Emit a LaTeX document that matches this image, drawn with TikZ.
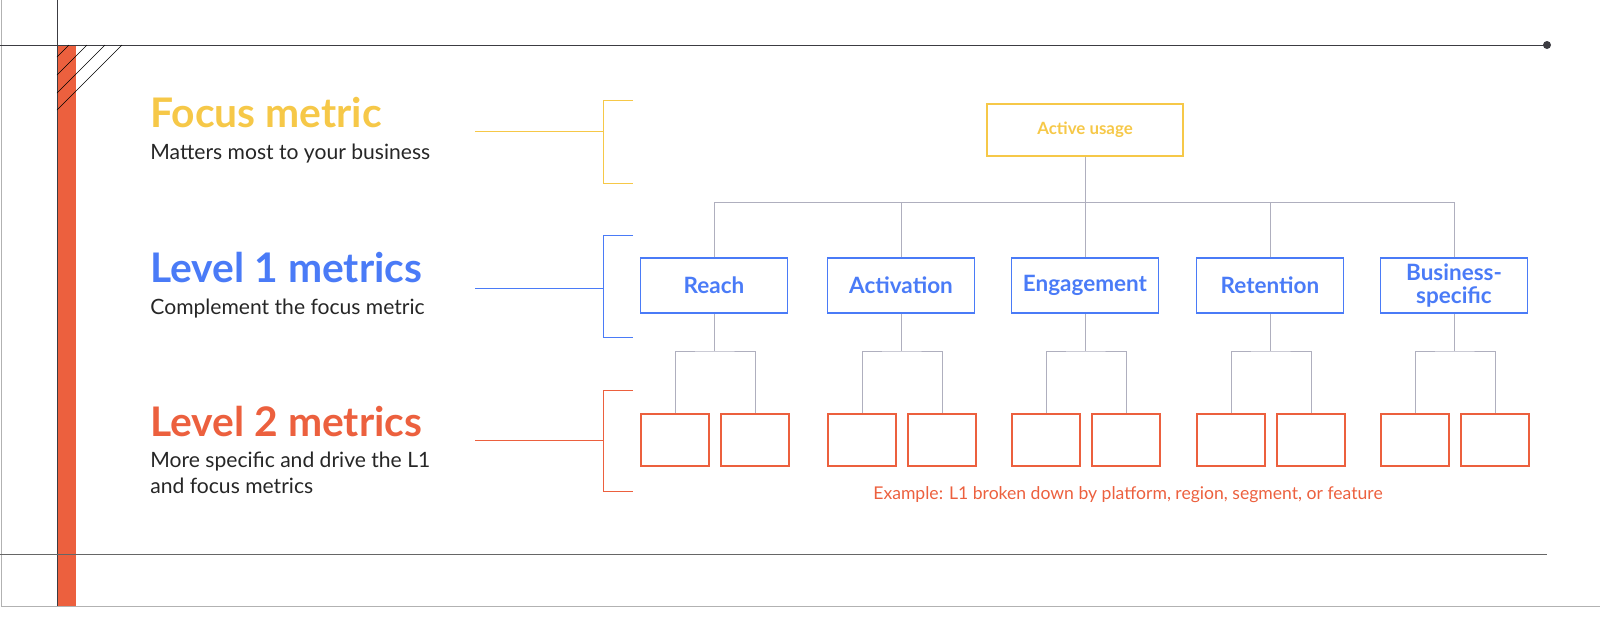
\documentclass[tikz,border=0pt]{standalone}
\usepackage{fontspec}
\setmainfont{Lato}
\usetikzlibrary{positioning,calc}
\definecolor{focus_yell}{RGB}{246,200,72}
\definecolor{lvl_blue}{RGB}{74,123,247}
\definecolor{lvl_red}{RGB}{236,96,62}
\definecolor{tree_gray}{RGB}{175,175,190}
\definecolor{frame_dark}{RGB}{60,60,66}
\begin{document}
\begin{tikzpicture}[x=0.025cm,y=-0.025cm,semithick]
    \tikzstyle{title}=[anchor=base west,font=\bfseries\fontsize{29}{32}\selectfont,inner sep=0]
    \tikzstyle{sub}=[anchor=north west,font=\fontsize{15}{18}\selectfont,inner sep=0,align=left,text=black!85]
    \tikzstyle{focus}=[draw=focus_yell,line width=1.2pt,minimum width=4.9cm,minimum height=1.3cm,text=focus_yell,font=\bfseries\fontsize{12}{14}\selectfont]
    \tikzstyle{lone}=[draw=lvl_blue,line width=1.2pt,minimum width=3.67cm,minimum height=1.37cm,text=lvl_blue,font=\bfseries\fontsize{16}{17}\selectfont,align=center]
    \tikzstyle{ltwo}=[draw=lvl_red,line width=1.2pt,minimum width=1.7cm,minimum height=1.3cm]
    \tikzstyle{tree}=[draw=tree_gray,thin]

    \useasboundingbox (0,0) rectangle (1600,619);
    % frame
    \draw[gray!60] (1,0) -- (1,606) -- (1600,606);
    \fill[lvl_red] (57,45) rectangle (76,606);
    \draw[frame_dark] (57,0) -- (57,606);
    \draw[frame_dark] (0,45) -- (1547,45);
    \fill[frame_dark] (1547,45) circle (4);
    \draw[gray!80!black] (0,554) -- (1547,554);
    \foreach \t in {69,87,105,122}
        \draw[black,thin] (\t,45) -- (57,{45+\t-57});

    % legend
    \node[title,text=focus_yell] (ftitle) at (150,127) {Focus metric};
    \node[sub] (fsub) at (150,144) {Matters most to your business};
    \node[title,text=lvl_blue] (otitle) at (150,282) {Level 1 metrics};
    \node[sub] (osub) at (150,299) {Complement the focus metric};
    \node[title,text=lvl_red] (ttitle) at (150,436) {Level 2 metrics};
    \node[sub] (tsub) at (150,452) {More specific and drive the L1\\and focus metrics};

    % brackets
    \draw[focus_yell] (475,131) -- (603,131) (633,100) -- (603,100) -- (603,183) -- (633,183);
    \draw[lvl_blue] (475,288) -- (603,288) (633,235) -- (603,235) -- (603,337) -- (633,337);
    \draw[lvl_red] (475,440) -- (603,440) (633,390) -- (603,390) -- (603,491) -- (633,491);

    % tree
    \node[focus] (active) at (1085,130) {Active usage};
    \coordinate (split) at (1085,202);
    \draw[tree] (active) -- (split);
    \foreach \x/\n/\lbl in {714/reach/Reach,901/activ/Activation,1085/engag/Engagement,1270/reten/Retention,1454/busin/{Business-\\specific}}{
        \node[lone] (\n) at (\x,285.5) {\lbl};
        \draw[tree] (\n.north) |- (split);
        \node[ltwo] (\n-a) at (\x-39,440) {};
        \node[ltwo] (\n-b) at (\x+41,440) {};
        \coordinate (\n-s) at (\x,351);
        \draw[tree] (\n) -- (\n-s);
        \draw[tree] (\n-a) |- (\n-s) -| (\n-b);
    }
    \node[text=lvl_red,font=\fontsize{12.5}{14}\selectfont] (example) at (1128,495) {Example: L1 broken down by platform, region, segment, or feature};
\end{tikzpicture}
\end{document}
